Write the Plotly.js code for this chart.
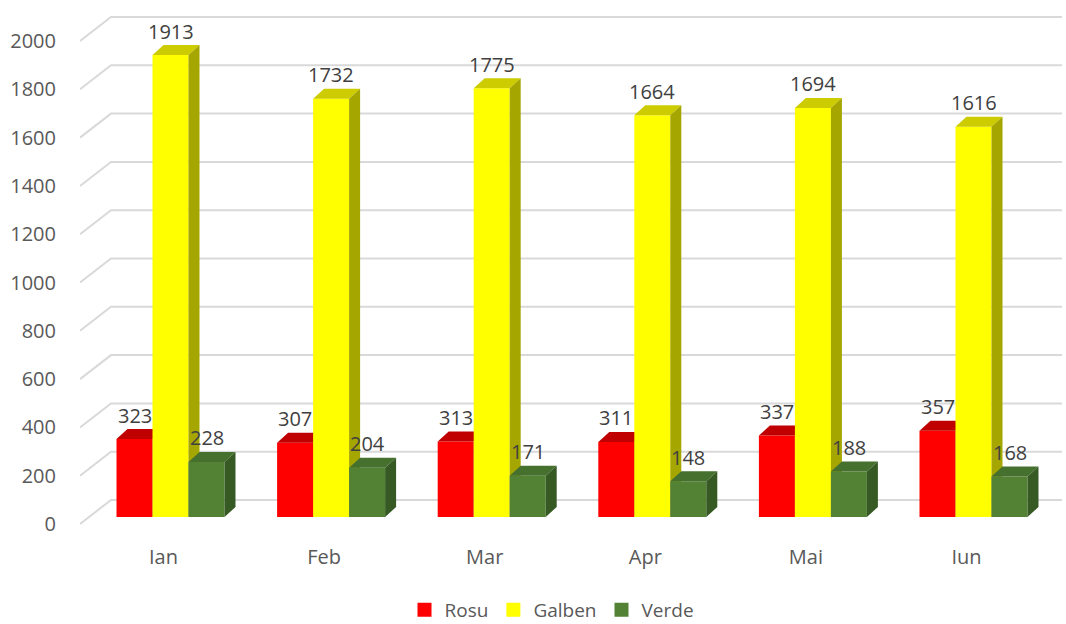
<!DOCTYPE html>
<html>
<head>
<meta charset="utf-8">
<script src="https://cdn.plot.ly/plotly-3.0.1.min.js"></script>
<style>
  html, body { margin: 0; padding: 0; background: #ffffff; }
  #chart { width: 1066px; height: 624px; }
</style>
</head>
<body>
<div id="chart"></div>
<script>
// ---- Data ----
const months = ['Ian', 'Feb', 'Mar', 'Apr', 'Mai', 'Iun'];
const rosu   = [323, 307, 313, 311, 337, 357];
const galben = [1913, 1732, 1775, 1664, 1694, 1616];
const verde  = [228, 204, 171, 148, 188, 168];
const yTickValues = [0, 200, 400, 600, 800, 1000, 1200, 1400, 1600, 1800, 2000];
const seriesNames = ['Rosu', 'Galben', 'Verde'];

// ---- Geometry / style (pixel-based scale factors) ----
const PX_PER_CAT = 160.6;          // px per category
const PX_PER_UNIT = 0.2415;        // px per value unit
const plotLeftPx = 80, plotRightPx = 1062, plotTopPx = 8, plotBottomPx = 530;
const zeroPx = 517;                // bar-plane zero line (pixel)
const firstGroupPx = 170.5;        // centre of first group (pixel)

const x0 = -(firstGroupPx - plotLeftPx) / PX_PER_CAT;
const x1 = x0 + (plotRightPx - plotLeftPx) / PX_PER_CAT;
const yMax = (zeroPx - plotTopPx) / PX_PER_UNIT;
const yMin = -(plotBottomPx - zeroPx) / PX_PER_UNIT;

const barW = 36 / PX_PER_CAT;
const depthX = 11 / PX_PER_CAT;
const depthY = 10 / PX_PER_UNIT;
const floorFrontY = -7 / PX_PER_UNIT;   // front edge of floor relative to bar plane
const wallBackY = 17 / PX_PER_UNIT;     // back wall relative to bar plane
const wallDX = 31 / PX_PER_CAT;

const colors = [
  { front: '#FF0000', top: '#C00000', side: '#A00000' },
  { front: '#FFFF00', top: '#CCCC00', side: '#A6A600' },
  { front: '#548235', top: '#46702D', side: '#375A25' }
];
const allSeries = [rosu, galben, verde];

const traces = [];

// Gridlines (back wall + floor diagonal), computed from tick values
const gx = [], gy = [];
yTickValues.forEach(v => {
  gx.push(x0, x0 + wallDX, x1, null);
  gy.push(v + floorFrontY, v + wallBackY, v + wallBackY, null);
});
traces.push({
  type: 'scatter', mode: 'lines', x: gx, y: gy,
  line: { color: '#D9D9D9', width: 2 },
  hoverinfo: 'skip', showlegend: false, connectgaps: false
});

function poly(pts, xs, ys) {
  pts.forEach(p => { xs.push(p[0]); ys.push(p[1]); });
  xs.push(pts[0][0]); ys.push(pts[0][1]);
  xs.push(null); ys.push(null);
}

const annotations = [];

allSeries.forEach((vals, s) => {
  const off = (s - 1) * barW;
  const fx = [], fy = [], tx = [], ty = [], sx = [], sy = [];
  vals.forEach((v, i) => {
    const xl = i + off - barW / 2, xr = i + off + barW / 2;
    poly([[xl, 0], [xr, 0], [xr, v], [xl, v]], fx, fy);
    poly([[xl, v], [xr, v], [xr + depthX, v + depthY], [xl + depthX, v + depthY]], tx, ty);
    poly([[xr, 0], [xr, v], [xr + depthX, v + depthY], [xr + depthX, depthY]], sx, sy);
    annotations.push({
      x: i + off, y: v, xref: 'x', yref: 'y', text: String(v),
      showarrow: false, yshift: 24, yanchor: 'middle', xanchor: 'center',
      font: { family: 'Open Sans, sans-serif', size: 20, color: '#404040' }
    });
  });
  const common = { type: 'scatter', mode: 'lines', fill: 'toself', hoverinfo: 'skip', showlegend: false, line: { width: 0 } };
  traces.push(Object.assign({}, common, { x: fx, y: fy, fillcolor: colors[s].front }));
  traces.push(Object.assign({}, common, { x: tx, y: ty, fillcolor: colors[s].top }));
  traces.push(Object.assign({}, common, { x: sx, y: sy, fillcolor: colors[s].side }));
});

// Legend entries
seriesNames.forEach((n, s) => {
  traces.push({
    type: 'scatter', mode: 'markers', x: [null], y: [null], name: n,
    marker: { symbol: 'square', size: 14, color: colors[s].front },
    hoverinfo: 'skip', showlegend: true
  });
});

const layout = {
  width: 1066, height: 624,
  margin: { l: plotLeftPx, r: 1066 - plotRightPx, t: plotTopPx, b: 624 - plotBottomPx, autoexpand: false },
  paper_bgcolor: '#FFFFFF', plot_bgcolor: '#FFFFFF',
  font: { family: 'Open Sans, sans-serif', size: 20, color: '#595959' },
  hovermode: false,
  xaxis: {
    range: [x0, x1], showgrid: false, zeroline: false, showline: false,
    tickvals: months.map((m, i) => i - 7 / PX_PER_CAT), ticktext: months,
    ticks: 'outside', ticklen: 9, tickcolor: 'rgba(0,0,0,0)',
    tickfont: { family: 'Open Sans, sans-serif', size: 20, color: '#595959' },
    automargin: false, fixedrange: true
  },
  yaxis: {
    range: [yMin, yMax], showgrid: false, zeroline: false, showline: false,
    tickvals: yTickValues.map(v => v + floorFrontY), ticktext: yTickValues.map(String),
    ticks: 'outside', ticklen: 19, tickcolor: 'rgba(0,0,0,0)',
    tickfont: { family: 'Open Sans, sans-serif', size: 20, color: '#595959' },
    automargin: false, fixedrange: true
  },
  showlegend: true,
  legend: {
    orientation: 'h', xref: 'paper', x: (552 - plotLeftPx) / (plotRightPx - plotLeftPx), xanchor: 'center',
    yref: 'container', y: 1 - 610 / 624, yanchor: 'middle',
    font: { family: 'Open Sans, sans-serif', size: 19, color: '#595959' },
    bgcolor: 'rgba(0,0,0,0)'
  },
  annotations: annotations
};

Plotly.newPlot('chart', traces, layout, { displayModeBar: false, staticPlot: true });
</script>
</body>
</html>
